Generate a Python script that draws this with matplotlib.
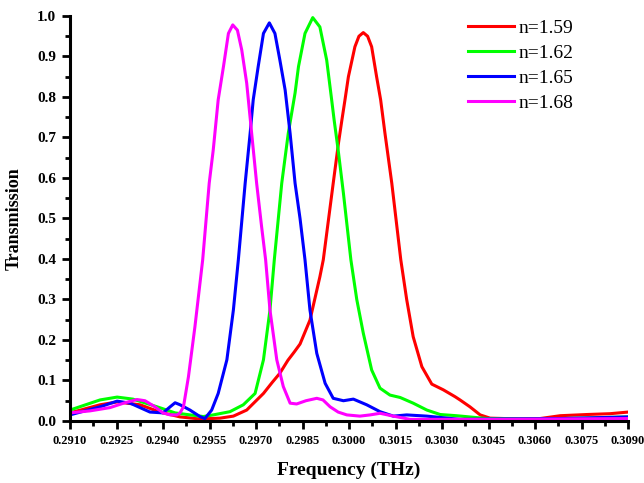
import numpy as np
import matplotlib.pyplot as plt
from matplotlib.ticker import MultipleLocator, FormatStrFormatter

plt.rcParams['font.family'] = ['Liberation Serif', 'DejaVu Serif']

# n = 1.59
f_159 = [0.29100, 0.29197, 0.29252, 0.29326, 0.29390, 0.29455, 0.29519, 0.29584,
         0.29627, 0.29670, 0.29724, 0.29752, 0.29777, 0.29803, 0.29823, 0.29842,
         0.29874, 0.29906, 0.29917, 0.29949, 0.29966, 0.29977, 0.29987, 0.29998,
         0.30019, 0.30032, 0.30046, 0.30060, 0.30073, 0.30089, 0.30102, 0.30116,
         0.30138, 0.30167, 0.30186, 0.30207, 0.30235, 0.30267, 0.30304, 0.30342,
         0.30358, 0.30390, 0.30423, 0.30455, 0.30552, 0.30616, 0.30681, 0.30768,
         0.30842, 0.30900]
t_159 = [0.020, 0.040, 0.047, 0.040, 0.022, 0.010, 0.005, 0.007,
         0.012, 0.027, 0.068, 0.095, 0.118, 0.150, 0.170, 0.190,
         0.249, 0.356, 0.398, 0.587, 0.686, 0.743, 0.793, 0.850,
         0.924, 0.950, 0.959, 0.950, 0.924, 0.850, 0.793, 0.710,
         0.587, 0.398, 0.300, 0.208, 0.134, 0.091, 0.077, 0.060,
         0.052, 0.035, 0.015, 0.007, 0.005, 0.006, 0.013, 0.016,
         0.018, 0.022]

# n = 1.62
f_162 = [0.29100, 0.29197, 0.29252, 0.29303, 0.29381, 0.29439, 0.29487, 0.29530,
         0.29562, 0.29616, 0.29659, 0.29697, 0.29724, 0.29745, 0.29759, 0.29783,
         0.29804, 0.29826, 0.29837, 0.29858, 0.29883, 0.29906, 0.29928, 0.29944,
         0.29952, 0.29965, 0.29982, 0.30006, 0.30025, 0.30046, 0.30073, 0.30100,
         0.30132, 0.30165, 0.30207, 0.30251, 0.30294, 0.30347, 0.30445, 0.30616,
         0.30745, 0.30900]
t_162 = [0.027, 0.052, 0.059, 0.054, 0.035, 0.020, 0.015, 0.011,
         0.015, 0.023, 0.040, 0.068, 0.151, 0.274, 0.398, 0.587,
         0.710, 0.810, 0.875, 0.957, 0.996, 0.973, 0.891, 0.793,
         0.743, 0.669, 0.562, 0.398, 0.300, 0.217, 0.126, 0.081,
         0.064, 0.058, 0.044, 0.027, 0.016, 0.013, 0.006, 0.005,
         0.007, 0.010]

# n = 1.65
f_165 = [0.29100, 0.29148, 0.29197, 0.29252, 0.29294, 0.29358, 0.29400, 0.29423,
         0.29439, 0.29455, 0.29487, 0.29519, 0.29535, 0.29557, 0.29578, 0.29606,
         0.29627, 0.29643, 0.29665, 0.29681, 0.29691, 0.29707, 0.29724, 0.29743,
         0.29761, 0.29777, 0.29794, 0.29810, 0.29826, 0.29842, 0.29858, 0.29874,
         0.29896, 0.29923, 0.29949, 0.29982, 0.30014, 0.30057, 0.30100, 0.30143,
         0.30186, 0.30251, 0.30358, 0.30487, 0.30681, 0.30900]
t_165 = [0.015, 0.025, 0.035, 0.049, 0.044, 0.022, 0.020, 0.035,
         0.045, 0.040, 0.027, 0.011, 0.006, 0.027, 0.068, 0.151,
         0.274, 0.398, 0.587, 0.710, 0.793, 0.875, 0.957, 0.983,
         0.957, 0.891, 0.817, 0.710, 0.587, 0.500, 0.398, 0.274,
         0.167, 0.093, 0.056, 0.050, 0.054, 0.040, 0.023, 0.012,
         0.015, 0.012, 0.004, 0.005, 0.006, 0.010]

# n = 1.68
f_168 = [0.29100, 0.29165, 0.29229, 0.29277, 0.29316, 0.29342, 0.29374, 0.29400,
         0.29423, 0.29445, 0.29455, 0.29466, 0.29482, 0.29503, 0.29528, 0.29549,
         0.29562, 0.29578, 0.29595, 0.29611, 0.29625, 0.29640, 0.29654, 0.29670,
         0.29686, 0.29702, 0.29718, 0.29731, 0.29745, 0.29767, 0.29788, 0.29810,
         0.29831, 0.29861, 0.29896, 0.29916, 0.29939, 0.29965, 0.29993, 0.30035,
         0.30068, 0.30100, 0.30143, 0.30197, 0.30326, 0.30487, 0.30681, 0.30900]
t_168 = [0.020, 0.025, 0.033, 0.045, 0.053, 0.050, 0.035, 0.020,
         0.015, 0.015, 0.020, 0.035, 0.109, 0.233, 0.398, 0.587,
         0.669, 0.793, 0.875, 0.957, 0.978, 0.965, 0.916, 0.834,
         0.710, 0.587, 0.480, 0.398, 0.274, 0.151, 0.085, 0.044,
         0.042, 0.050, 0.056, 0.052, 0.035, 0.022, 0.015, 0.012,
         0.015, 0.019, 0.012, 0.004, 0.004, 0.004, 0.005, 0.006]

labels = ['n=1.59', 'n=1.62', 'n=1.65', 'n=1.68']
colors = ['#ff0000', '#00ff00', '#0000ff', '#ff00ff']

fig = plt.figure(figsize=(6.44, 4.83), dpi=100)
ax = fig.add_axes([0.1087, 0.1284, 0.8665, 0.8385])

series = [(f_159, t_159), (f_162, t_162), (f_165, t_165), (f_168, t_168)]
for (f, t), lab, c in zip(series, labels, colors):
    ax.plot(f, t, color=c, lw=2.2, label=lab, solid_joinstyle='round')

ax.set_xlim(0.2910, 0.3090)
ax.set_ylim(0.0, 1.0)
ax.xaxis.set_major_locator(MultipleLocator(0.0015))
ax.xaxis.set_minor_locator(MultipleLocator(0.00075))
ax.yaxis.set_major_locator(MultipleLocator(0.1))
ax.yaxis.set_minor_locator(MultipleLocator(0.05))
ax.xaxis.set_major_formatter(FormatStrFormatter('%.4f'))
ax.yaxis.set_major_formatter(FormatStrFormatter('%.1f'))

ax.spines['top'].set_visible(False)
ax.spines['right'].set_visible(False)
for s in ['left', 'bottom']:
    ax.spines[s].set_linewidth(2.2)
ax.tick_params(which='major', direction='out', length=6, width=2)
ax.tick_params(which='minor', direction='out', length=3.5, width=2)
ax.tick_params(axis='x', labelsize=9, pad=4)
ax.tick_params(axis='y', labelsize=11, pad=4)
for lbl in ax.get_xticklabels() + ax.get_yticklabels():
    lbl.set_fontweight('bold')

ax.set_xlabel('Frequency (THz)', fontsize=14, fontweight='bold', labelpad=11)
ax.set_ylabel('Transmission', fontsize=13, fontweight='bold', labelpad=10)

ax.legend(loc='upper left', bbox_to_anchor=(0.6954, 1.015), frameon=False,
          borderpad=0, fontsize=14, handlelength=2.37, handletextpad=0.26,
          labelspacing=0.38)

fig.savefig('out.png', dpi=100)
